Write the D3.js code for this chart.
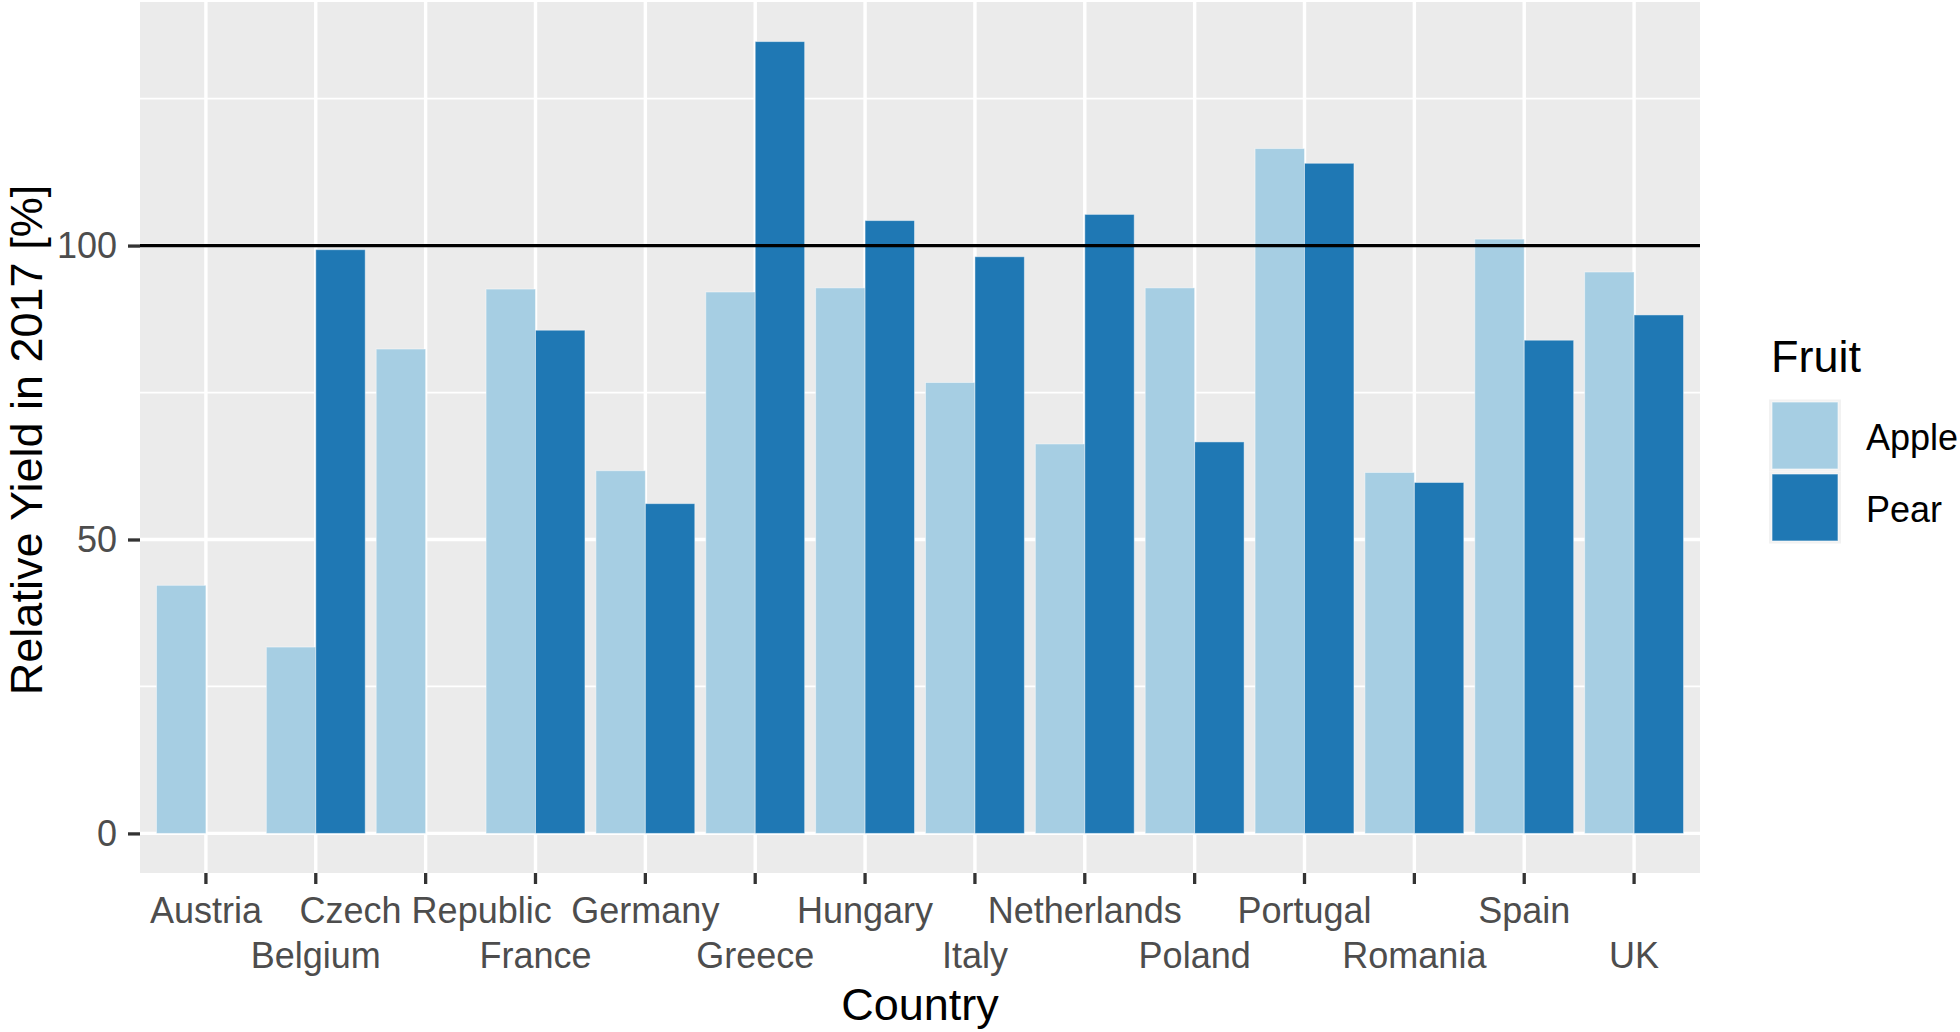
<!DOCTYPE html>
<html>
<head>
<meta charset="utf-8">
<script src="https://cdn.jsdelivr.net/npm/d3@7"></script>
<style>
  html, body { margin: 0; padding: 0; background: #ffffff; }
  svg { display: block; font-family: "Liberation Sans", Arial, sans-serif; }
</style>
</head>
<body>
<svg id="chart" width="1960" height="1032"></svg>
<script>
// ---- data ----
const countries = ["Austria", "Belgium", "Czech Republic", "France", "Germany", "Greece", "Hungary",
                   "Italy", "Netherlands", "Poland", "Portugal", "Romania", "Spain", "UK"];
const fruits = ["Apple", "Pear"];
const appleYield = [42.2, 31.7, 82.4, 92.6, 61.7, 92.1, 92.8, 76.7, 66.25, 92.8, 116.5, 61.4, 101.1, 95.5];
const pearYield  = [null, 99.3, null, 85.6, 56.1, 134.7, 104.25, 98.1, 105.3, 66.6, 114.0, 59.7, 83.9, 88.2];
const yTicks = [0, 50, 100];
const yMinorTicks = [25, 75, 125];
const referenceLine = 100;
const fruitColors = ["#A6CEE3", "#1F78B4"];

// ---- layout ----
const svg = d3.select("#chart");
const panel = { left: 140, right: 1700, top: 2, bottom: 873 };

const rows = [];
countries.forEach((c, i) => {
  rows.push({ country: c, fruit: "Apple", value: appleYield[i] });
  rows.push({ country: c, fruit: "Pear", value: pearYield[i] });
});

const x = d3.scaleBand().domain(countries).range([panel.left, panel.right])
  .paddingInner(0.1).paddingOuter(0.15);
const xSub = d3.scaleBand().domain(fruits).range([0, x.bandwidth()]);
const yMax = d3.max(rows, d => d.value);
const y = d3.scaleLinear().domain([-0.05 * yMax, 1.05 * yMax]).range([panel.bottom, panel.top]);
const color = d3.scaleOrdinal().domain(fruits).range(fruitColors);

// panel background
svg.append("rect")
  .attr("x", panel.left).attr("y", panel.top)
  .attr("width", panel.right - panel.left).attr("height", panel.bottom - panel.top)
  .attr("fill", "#EBEBEB");

// grid lines
const grid = svg.append("g");
grid.selectAll("line.minor").data(yMinorTicks).join("line")
  .attr("x1", panel.left).attr("x2", panel.right)
  .attr("y1", d => y(d)).attr("y2", d => y(d))
  .attr("stroke", "#ffffff").attr("stroke-width", 1.8);
grid.selectAll("line.majorY").data(yTicks).join("line")
  .attr("x1", panel.left).attr("x2", panel.right)
  .attr("y1", d => y(d)).attr("y2", d => y(d))
  .attr("stroke", "#ffffff").attr("stroke-width", 3.4);
grid.selectAll("line.majorX").data(countries).join("line")
  .attr("x1", d => x(d) + x.bandwidth() / 2).attr("x2", d => x(d) + x.bandwidth() / 2)
  .attr("y1", panel.top).attr("y2", panel.bottom)
  .attr("stroke", "#ffffff").attr("stroke-width", 3.4);

// bars
svg.append("g").selectAll("rect")
  .data(rows.filter(d => d.value != null))
  .join("rect")
  .attr("x", d => x(d.country) + xSub(d.fruit))
  .attr("width", xSub.bandwidth())
  .attr("y", d => y(Math.max(0, d.value)))
  .attr("height", d => Math.abs(y(d.value) - y(0)))
  .attr("fill", d => color(d.fruit))
  .attr("stroke", "rgba(255,255,255,0.45)")
  .attr("stroke-width", 1);

// reference line at 100
svg.append("line")
  .attr("x1", panel.left).attr("x2", panel.right)
  .attr("y1", y(referenceLine)).attr("y2", y(referenceLine))
  .attr("stroke", "#000000").attr("stroke-width", 3.3);

// y axis
const yAxis = svg.append("g")
  .attr("transform", `translate(${panel.left},0)`)
  .call(d3.axisLeft(y).tickValues(yTicks).tickSize(12).tickPadding(11));
yAxis.select(".domain").remove();
yAxis.selectAll(".tick line").attr("stroke", "#333333").attr("stroke-width", 3.3);
yAxis.selectAll(".tick text")
  .attr("fill", "#4D4D4D").attr("font-size", 36)
  .attr("font-family", "Liberation Sans, Arial, sans-serif")
  .attr("dy", "0.34em");

// x axis
const xAxis = svg.append("g")
  .attr("transform", `translate(0,${panel.bottom})`)
  .call(d3.axisBottom(x).tickSize(11));
xAxis.select(".domain").remove();
xAxis.selectAll(".tick line").attr("stroke", "#333333").attr("stroke-width", 3.3);
xAxis.selectAll(".tick text")
  .attr("fill", "#4D4D4D").attr("font-size", 36)
  .attr("font-family", "Liberation Sans, Arial, sans-serif")
  .attr("dy", 0)
  .attr("y", (d, i) => (i % 2 === 0 ? 50 : 95));

// axis titles
svg.append("text")
  .attr("x", (panel.left + panel.right) / 2).attr("y", 1020)
  .attr("text-anchor", "middle").attr("font-size", 45).attr("fill", "#000000")
  .text("Country");
svg.append("text")
  .attr("transform", `translate(42,440) rotate(-90)`)
  .attr("text-anchor", "middle").attr("font-size", 45).attr("fill", "#000000")
  .text("Relative Yield in 2017 [%]");

// legend
const legend = svg.append("g").attr("transform", "translate(1769,0)");
legend.append("text")
  .attr("x", 2).attr("y", 371.5)
  .attr("font-size", 45).attr("fill", "#000000")
  .text("Fruit");
const keys = legend.selectAll("g.key").data(fruits).join("g")
  .attr("transform", (d, i) => `translate(0,${399.5 + i * 72})`);
keys.append("rect")
  .attr("width", 72).attr("height", 72).attr("fill", "#F2F2F2");
keys.append("rect")
  .attr("x", 3).attr("y", 2.5).attr("width", 66).attr("height", 67)
  .attr("fill", d => color(d))
  .attr("stroke", "rgba(255,255,255,0.6)").attr("stroke-width", 1);
keys.append("text")
  .attr("x", 97).attr("y", 50)
  .attr("font-size", 36).attr("fill", "#000000")
  .text(d => d);
</script>
</body>
</html>
